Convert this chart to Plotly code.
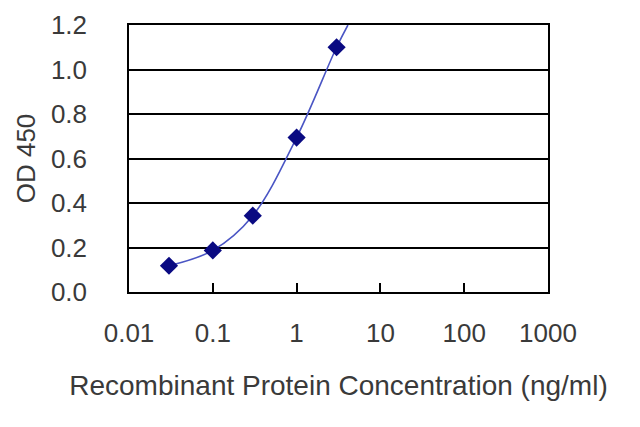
import plotly.graph_objects as go

# measured points (ng/ml vs OD 450)
conc = [0.03, 0.1, 0.3, 1, 3]
od450 = [0.118, 0.187, 0.343, 0.694, 1.10]

# fitted curve (runs out of the top at ~4 ng/ml)
fit_conc = [0.03, 0.1, 0.3, 1, 3, 4.1]
fit_od = [0.118, 0.187, 0.343, 0.694, 1.10, 1.2]

x_ticks = [0.01, 0.1, 1, 10, 100, 1000]
x_labels = ["0.01", "0.1", "1", "10", "100", "1000"]

txt = "#3a3a3a"
fnt = "Liberation Sans, Arial, sans-serif"

fig = go.Figure()
fig.add_trace(go.Scatter(x=fit_conc, y=fit_od, mode="lines",
                         line=dict(color="#4a55c4", width=1.6, shape="spline"),
                         hoverinfo="skip", showlegend=False))
fig.add_trace(go.Scatter(x=conc, y=od450, mode="markers",
                         marker=dict(symbol="diamond", size=14, color="#0a0a82"),
                         showlegend=False))

fig.update_xaxes(type="log", range=[-2, 3], tickvals=x_ticks, ticktext=x_labels,
                 ticks="inside", ticklen=9, tickwidth=1.5, tickcolor="black",
                 showline=True, linecolor="black", linewidth=1.5, mirror=True,
                 showgrid=False, zeroline=False, ticklabelstandoff=17,
                 tickfont=dict(size=26, color=txt, family=fnt),
                 title=dict(text="Recombinant Protein Concentration (ng/ml)",
                            font=dict(size=28, color=txt, family=fnt), standoff=28))
fig.update_yaxes(range=[0, 1.2], dtick=0.2, tickformat=".1f",
                 showline=True, linecolor="black", linewidth=1.5, mirror=True,
                 showgrid=True, gridcolor="black", gridwidth=1.6, zeroline=False,
                 ticklabelstandoff=35,
                 tickfont=dict(size=26, color=txt, family=fnt),
                 title=dict(text="OD 450", font=dict(size=26, color=txt, family=fnt),
                            standoff=8))

# page body adds 8px on top/left, so the margins are 8px short of the target
fig.update_layout(width=640, height=427,
                  margin=dict(l=121, r=100, t=17, b=143, autoexpand=False),
                  paper_bgcolor="white", plot_bgcolor="white")

fig.write_html("out.html")
